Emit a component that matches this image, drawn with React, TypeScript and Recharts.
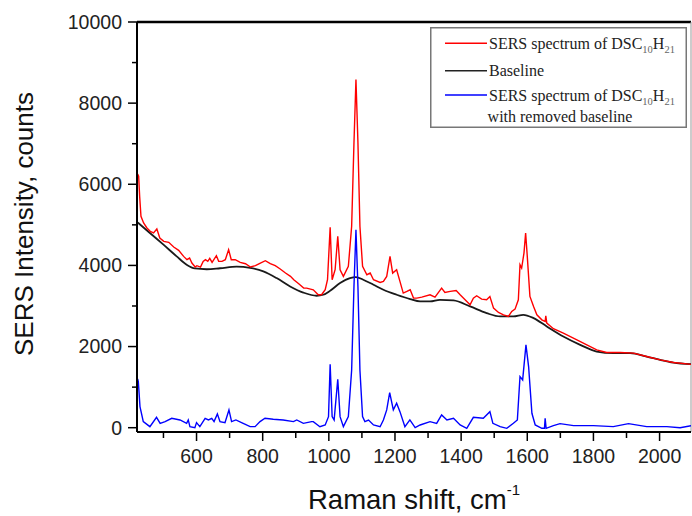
import React from 'react';
import { LineChart, Line, XAxis, YAxis, ReferenceLine, Legend } from 'recharts';

// [Raman shift (cm-1), counts]
const sersSpectrum: [number, number][] = [
  [422, 6250], [425, 6199], [428, 5705], [432, 5211], [440, 5046], [450, 4923], [460, 4840],
  [470, 4800], [480, 4898], [489, 4676], [501, 4594], [516, 4569], [531, 4454], [546, 4371],
  [561, 4223], [571, 4141], [579, 4182], [586, 4059], [596, 3960], [601, 3993], [612, 3960],
  [620, 4100], [627, 4141], [634, 4100], [640, 4174], [647, 4075], [660, 4240], [667, 4100],
  [677, 4100], [687, 4141], [697, 4388], [705, 4141], [717, 4141], [732, 4075], [748, 4042],
  [763, 3960], [778, 3993], [793, 4059], [808, 4116], [823, 4042], [838, 3993], [853, 3911],
  [869, 3812], [884, 3730], [894, 3647], [909, 3549], [924, 3441], [933, 3441], [953, 3400],
  [968, 3277], [978, 3277], [989, 3400], [996, 3647], [1004, 4939], [1010, 3647], [1019, 3894],
  [1027, 4717], [1034, 3894], [1044, 3730], [1059, 3976], [1069, 4964], [1076, 7022], [1082, 8585],
  [1088, 7022], [1094, 4964], [1102, 3976], [1115, 3771], [1125, 3812], [1135, 3647], [1155, 3581],
  [1165, 3606], [1175, 3729], [1185, 4223], [1193, 3811], [1205, 3894], [1215, 3606], [1225, 3317],
  [1236, 3359], [1246, 3400], [1256, 3194], [1266, 3194], [1281, 3219], [1306, 3276], [1321, 3219],
  [1341, 3441], [1351, 3334], [1367, 3359], [1385, 3383], [1397, 3276], [1412, 3153], [1427, 3029],
  [1437, 3194], [1447, 3252], [1462, 3169], [1477, 3153], [1487, 3235], [1498, 2947], [1513, 2840],
  [1528, 2782], [1543, 2741], [1553, 2865], [1563, 2922], [1573, 3153], [1578, 4017], [1583, 3935],
  [1590, 4305], [1595, 4799], [1600, 4223], [1608, 3235], [1619, 2988], [1629, 2782], [1644, 2659],
  [1654, 2618], [1656, 2758], [1659, 2577], [1679, 2440], [1709, 2330], [1750, 2166], [1780, 2042],
  [1810, 1919], [1840, 1853], [1881, 1853], [1921, 1837], [1961, 1754], [2002, 1672], [2042, 1606],
  [2082, 1573], [2095, 1560],
];

const baseline: [number, number][] = [
  [422, 5060], [424, 5046], [459, 4799], [500, 4511], [540, 4223], [570, 4018], [595, 3925],
  [631, 3905], [671, 3930], [721, 3970], [762, 3940], [802, 3853], [842, 3688], [883, 3482],
  [923, 3330], [963, 3252], [983, 3277], [1004, 3376], [1034, 3565], [1064, 3688], [1082, 3713],
  [1104, 3647], [1135, 3524], [1165, 3400], [1205, 3277], [1246, 3170], [1276, 3112], [1306, 3112],
  [1336, 3153], [1377, 3137], [1427, 2989], [1477, 2824], [1518, 2742], [1558, 2742], [1588, 2783],
  [1619, 2701], [1659, 2495], [1709, 2248], [1760, 2042], [1810, 1878], [1860, 1837], [1911, 1837],
  [1961, 1754], [2002, 1672], [2042, 1606], [2095, 1565],
];

const correctedSpectrum: [number, number][] = [
  [422, 1200], [424, 1137], [429, 520], [439, 150], [459, 26], [479, 256], [490, 108], [505, 150],
  [525, 232], [550, 191], [570, 108], [575, 191], [580, 26], [595, 0], [600, 125], [610, 26],
  [626, 232], [636, 191], [646, 232], [653, 150], [663, 339], [671, 150], [686, 125], [698, 438],
  [706, 150], [719, 191], [741, 108], [762, 26], [777, 26], [792, 150], [807, 232], [832, 207],
  [862, 191], [893, 150], [903, 191], [923, 108], [948, 150], [953, 149], [973, 25], [989, 67],
  [999, 272], [1004, 1564], [1010, 272], [1016, 190], [1027, 1194], [1034, 272], [1044, 25],
  [1059, 272], [1069, 1424], [1076, 3482], [1082, 4881], [1088, 3482], [1094, 1424], [1102, 272],
  [1109, 149], [1120, 190], [1135, 67], [1155, 25], [1165, 191], [1175, 438], [1184, 865],
  [1195, 438], [1205, 602], [1215, 396], [1230, 26], [1245, 191], [1261, 0], [1276, 67],
  [1306, 150], [1326, 108], [1341, 314], [1357, 191], [1377, 232], [1397, 67], [1417, -15],
  [1437, 256], [1467, 232], [1487, 396], [1496, 108], [1518, 26], [1538, -15], [1558, 108],
  [1570, 191], [1578, 1260], [1586, 1178], [1596, 2042], [1604, 1507], [1614, 355], [1624, 67],
  [1644, -15], [1652, -15], [1654, 232], [1657, -15], [1679, 50], [1699, 100], [1740, 50],
  [1800, 50], [1860, 26], [1906, 100], [1961, 26], [2022, 26], [2062, 0], [2095, 50],
];

const xTicks = [500, 600, 700, 800, 900, 1000, 1100, 1200, 1300, 1400, 1500, 1600, 1700, 1800, 1900, 2000];
const yTicks = [0, 1000, 2000, 3000, 4000, 5000, 6000, 7000, 8000, 9000, 10000];

const toPoints = (s: [number, number][]) => s.map(([x, y]) => ({ x, y }));

const SANS = '"Liberation Sans", Arial, sans-serif';
const SERIF = '"Liberation Serif", "Times New Roman", serif';

function XTick({ x, y, payload }: any) {
  const major = payload.value % 200 === 0;
  return (
    <g>
      <line x1={x} x2={x} y1={y} y2={y + (major ? 9 : 6)} stroke="#000" strokeWidth={1.5} />
      {major && (
        <text x={x} y={y + 17} dy="0.71em" textAnchor="middle" fontSize={19.5} fontFamily={SANS} fill="#222">
          {payload.value}
        </text>
      )}
    </g>
  );
}

function YTick({ x, y, payload }: any) {
  const major = payload.value % 2000 === 0;
  return (
    <g>
      <line x1={x} x2={x - (major ? 9 : 5)} y1={y} y2={y} stroke="#000" strokeWidth={1.5} />
      {major && (
        <text x={x - 15} y={y} dy="0.355em" textAnchor="end" fontSize={19.5} fontFamily={SANS} fill="#222">
          {payload.value}
        </text>
      )}
    </g>
  );
}

const XTitle = () => (
  <text x={414} y={509} textAnchor="middle" fontSize={27.5} fontFamily={SANS} fill="#111">
    Raman shift, cm<tspan dy={-14} fontSize={15}>-1</tspan>
  </text>
);

const YTitle = () => (
  <text x={33} y={224} transform="rotate(-90 33 224)" textAnchor="middle" fontSize={26} fontFamily={SANS} fill="#111">
    SERS Intensity, counts
  </text>
);

function LegendBox() {
  const sub = { fontSize: 10.5, fill: '#666' };
  return (
    <svg width={257} height={101} style={{ display: 'block' }}>
      <rect x={0.75} y={0.75} width={255.5} height={99.5} fill="#fff" stroke="#777" strokeWidth={1.5} />
      <g fontFamily={SERIF} fontSize={16} fill="#222">
        <line x1={15} x2={57} y1={16.3} y2={16.3} stroke="#ff0000" strokeWidth={1.6} />
        <text x={59} y={22.3}>
          SERS spectrum of DSC<tspan dy={4} {...sub}>10</tspan><tspan dy={-4}>H</tspan><tspan dy={4} {...sub}>21</tspan>
        </text>
        <line x1={15} x2={57} y1={43.7} y2={43.7} stroke="#222" strokeWidth={1.6} />
        <text x={59} y={48.5}>Baseline</text>
        <line x1={15} x2={57} y1={68} y2={68} stroke="#0000ff" strokeWidth={1.6} />
        <text x={59} y={73.5}>
          SERS spectrum of DSC<tspan dy={4} {...sub}>10</tspan><tspan dy={-4}>H</tspan><tspan dy={4} {...sub}>21</tspan>
        </text>
        <text x={130} y={94.7} textAnchor="middle">with removed baseline</text>
      </g>
    </svg>
  );
}

export default function App() {
  return (
    <div style={{ position: 'absolute', left: 0, top: 0, width: 692, height: 516, background: '#fff' }}>
      <LineChart width={692} height={516} margin={{ top: 22, right: 1, bottom: 0, left: 0 }}>
        <XAxis
          dataKey="x"
          type="number"
          domain={[420, 2095]}
          allowDataOverflow
          ticks={xTicks}
          interval={0}
          height={84}
          tickSize={0}
          tickMargin={0}
          tickLine={false}
          tick={<XTick />}
          axisLine={{ stroke: '#000', strokeWidth: 2 }}
          label={<XTitle />}
        />
        <YAxis
          type="number"
          domain={[-106, 10000]}
          allowDataOverflow
          ticks={yTicks}
          interval={0}
          width={137}
          tickSize={0}
          tickMargin={0}
          tickLine={false}
          tick={<YTick />}
          axisLine={{ stroke: '#000', strokeWidth: 2 }}
          label={<YTitle />}
        />
        <ReferenceLine y={10000} stroke="#000" strokeWidth={2.5} />
        <ReferenceLine x={2095} stroke="#999" strokeWidth={1} />
        <Line data={toPoints(baseline)} dataKey="y" type="monotone" stroke="#1a1a1a" strokeWidth={1.8} dot={false} isAnimationActive={false} />
        <Line data={toPoints(sersSpectrum)} dataKey="y" type="linear" stroke="#ff0000" strokeWidth={1.4} dot={false} isAnimationActive={false} />
        <Line data={toPoints(correctedSpectrum)} dataKey="y" type="linear" stroke="#0000ff" strokeWidth={1.4} dot={false} isAnimationActive={false} />
        <Legend
          layout="vertical"
          align="center"
          verticalAlign="middle"
          content={<LegendBox />}
          wrapperStyle={{ position: 'absolute', left: 430, top: 27, width: 257, height: 101 }}
        />
      </LineChart>
    </div>
  );
}
